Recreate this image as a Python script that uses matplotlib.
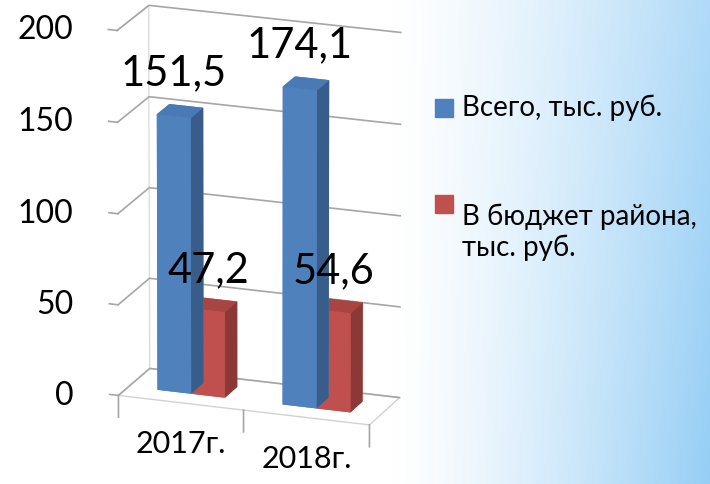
import numpy as np
import matplotlib
matplotlib.use("Agg")
import matplotlib.pyplot as plt
from matplotlib.patches import Rectangle
from mpl_toolkits.mplot3d import proj3d

plt.rcParams['font.family'] = ['Lato', 'Noto Sans', 'DejaVu Sans']

# data
years = ["2017г.", "2018г."]
total = [151.5, 174.1]
budget = [47.2, 54.6]
value_labels_total = ["151,5", "174,1"]
value_labels_budget = ["47,2", "54,6"]
series_names = ["Всего, тыс. руб.", "В бюджет района,\nтыс. руб."]
zticks = [0, 50, 100, 150, 200]

blue_faces = ["#4F81BD", "#4A7AB5", "#4F81BD", "#4F81BD", "#4F81BD", "#385D8A"]
red_faces = ["#C0504D", "#A84441", "#C0504D", "#C0504D", "#C0504D", "#8C3836"]

fig = plt.figure(figsize=(7.1, 4.84), dpi=100)

# background gradient white -> light blue
bg = fig.add_axes([0, 0, 1, 1], zorder=-10)
xx = np.linspace(0, 1, 400)
yy = np.linspace(0, 1, 200)
X, Y = np.meshgrid(xx, yy)
t = np.clip((X - 0.55) / 0.45, 0, 1) ** 1.3
t = t * (0.75 + 0.25 * Y)
white = np.array([1.0, 1.0, 1.0])
blue = np.array([150, 206, 245]) / 255
img = white[None, None, :] * (1 - t[..., None]) + blue[None, None, :] * t[..., None]
bg.imshow(img, aspect="auto", origin="upper", extent=[0, 1, 0, 1])
bg.axis("off")

ax = fig.add_axes([-0.005, 0.012, 0.72, 1.06], projection="3d")
ax.set_facecolor((1, 1, 1, 0))
ax.view_init(elev=18, azim=-70)
ax.set_proj_type("persp", focal_length=5)
ax.set_box_aspect((258, 87, 370), zoom=0.905)

ax.set_xlim(0, 2)
ax.set_ylim(0, 1)
ax.set_zlim(0, 200)

grey = "#a6a6a6"
for axis in (ax.xaxis, ax.yaxis, ax.zaxis):
    axis.pane.set_facecolor((1, 1, 1, 0))
    axis.pane.set_edgecolor(grey)
    axis.line.set_color((1, 1, 1, 0))
    axis.label.set_visible(False)
    axis.offsetText.set_visible(False)
ax.yaxis.pane.set_edgecolor((1, 1, 1, 0))
ax.grid(False)
ax.set_xticks([])
ax.set_yticks([])
ax.set_zticks([])

# gridlines on left and back walls
for v in zticks:
    ax.plot([0, 0, 2], [0, 1, 1], [v, v, v], color=grey, lw=1.2)
    ax.plot([-0.07, 0], [0, 0], [v, v], color=grey, lw=1.2)
# category tick marks
for xv in range(len(years) + 1):
    ax.plot([xv, xv], [0, 0], [0, -12], color=grey, lw=1.2)

bw = 0.27
y0, dy = 0.33, 0.4
for i in range(len(years)):
    x_blue = i + 0.23
    x_red = x_blue + bw
    ax.bar3d(x_red, y0, 0, bw, dy, budget[i], color=red_faces, shade=False)
    ax.bar3d(x_blue, y0, 0, bw, dy, total[i], color=blue_faces, shade=False)

# labels placed from projected positions (converted to figure fraction)
M = ax.get_proj()
to_fig = fig.transFigure.inverted()
H = fig.get_size_inches()[1] * fig.dpi


def fig_pos(x, y, z):
    px, py, _ = proj3d.proj_transform(x, y, z, M)
    return to_fig.transform(ax.transData.transform((px, py)))


for i in range(len(years)):
    x_blue = i + 0.23
    x_red = x_blue + bw
    fx, fy = fig_pos(x_blue + bw / 2, y0, total[i] + 23)
    fig.text(fx, fy, value_labels_total[i], ha="center", va="center", fontsize=30)
    fx, fy = fig_pos(x_red + bw / 2, y0, budget[i] + 22)
    fig.text(fx, fy, value_labels_budget[i], ha="center", va="center", fontsize=30)

for v in zticks:
    fx, fy = fig_pos(0, 0, v)
    fig.text(0.103, fy, str(v), ha="right", va="center", fontsize=23)
for i, name in enumerate(years):
    fx, fy = fig_pos(i + 0.5, 0, 0)
    fig.text(fx, fy - 50 / H, name, ha="center", va="baseline", fontsize=22)

# legend
leg_x = 0.613
fig.patches.append(Rectangle((leg_x, 0.758), 0.025, 0.038, transform=fig.transFigure,
                             color="#4F81BD"))
fig.text(leg_x + 0.037, 0.777, series_names[0], fontsize=20, va="center")
fig.patches.append(Rectangle((leg_x, 0.560), 0.025, 0.038, transform=fig.transFigure,
                             color="#C0504D"))
fig.text(leg_x + 0.037, 0.579, series_names[1], fontsize=20, va="top",
         linespacing=1.2)

fig.savefig("out.png", dpi=100)
